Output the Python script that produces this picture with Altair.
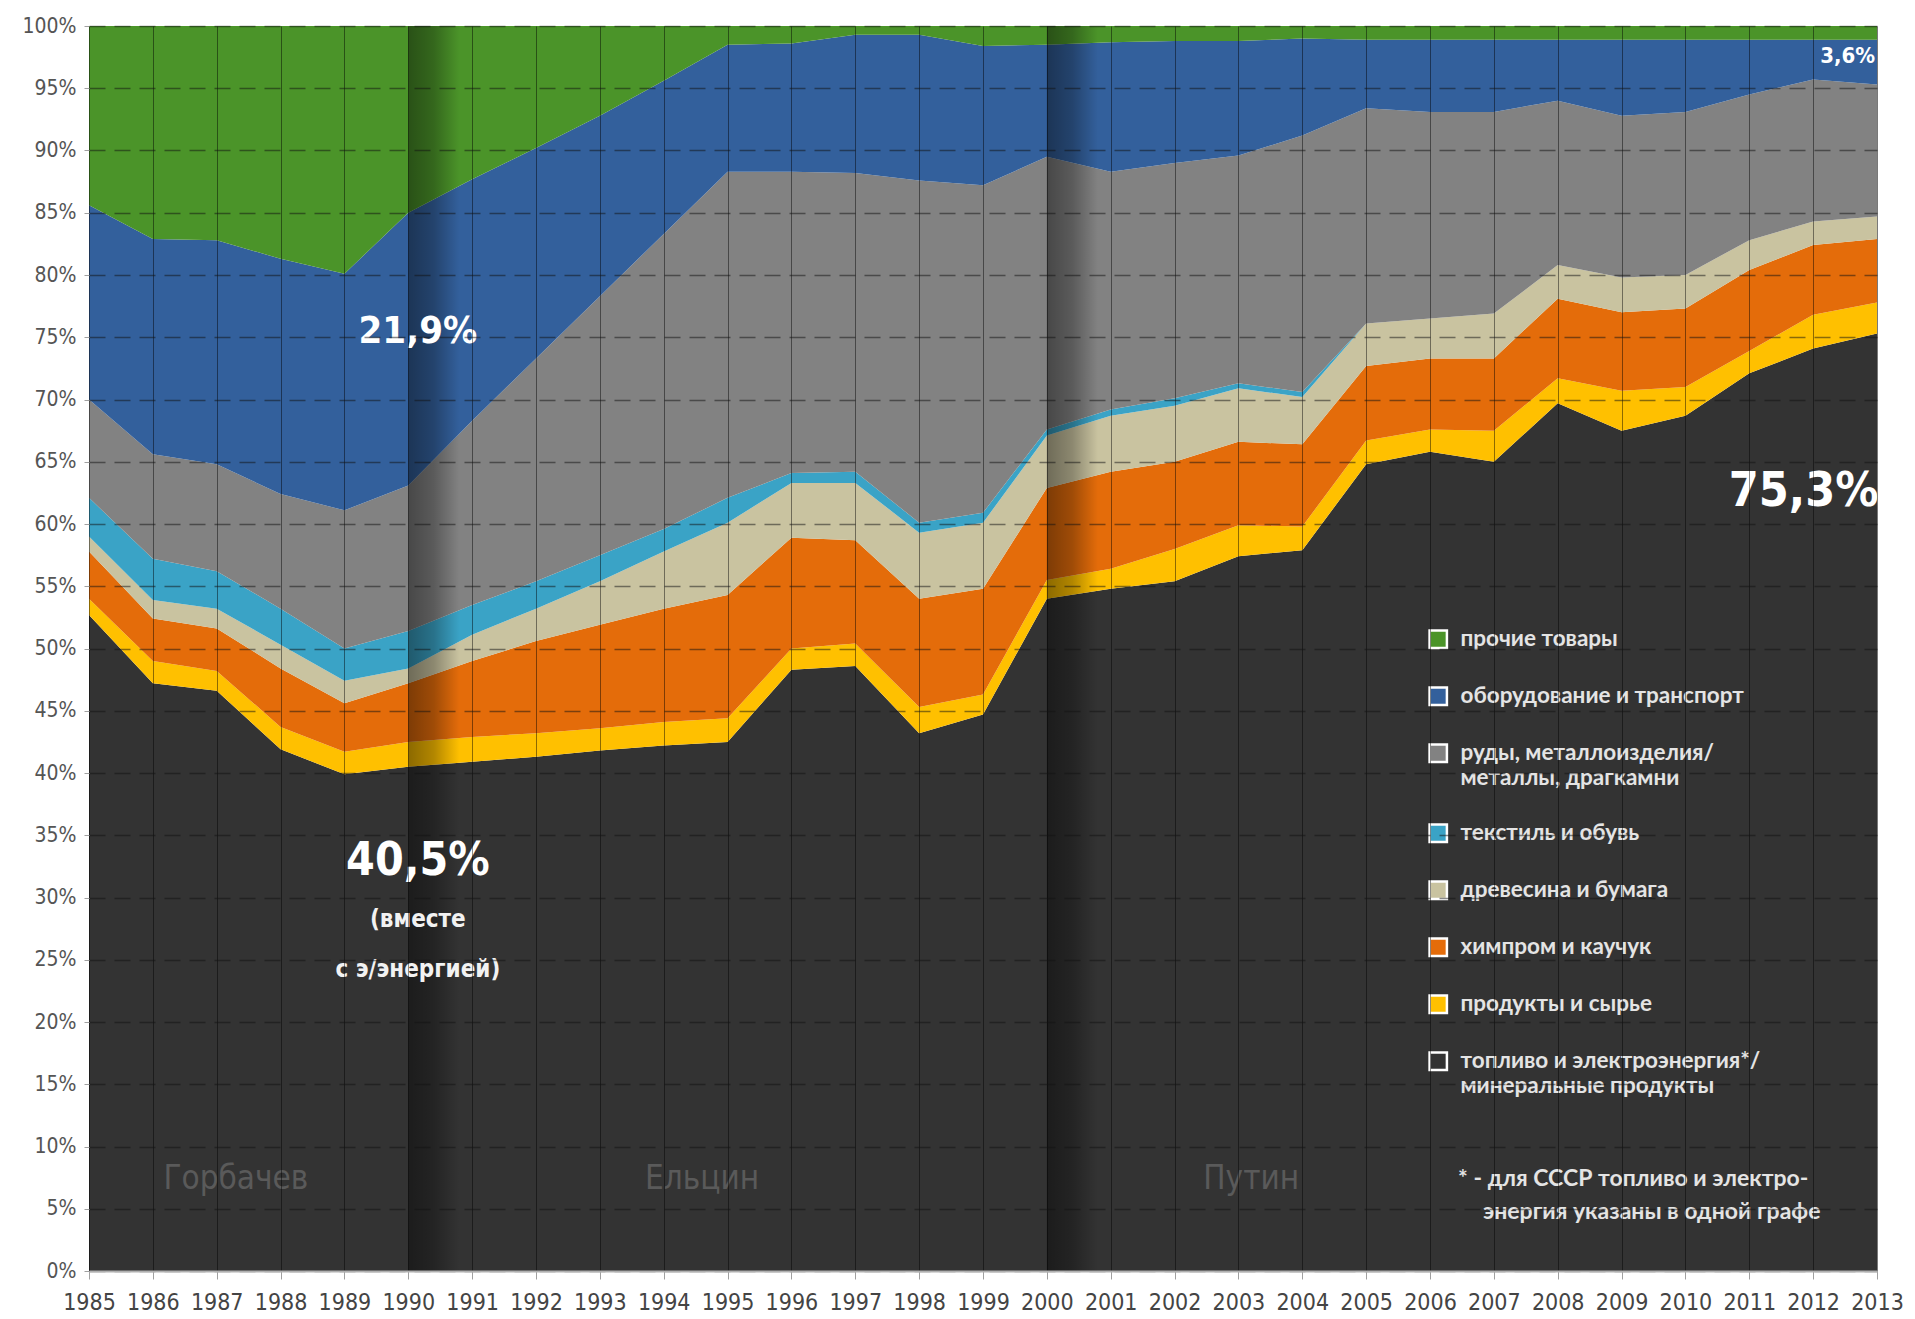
import altair as alt
import pandas as pd

# ---------------- data (shares of exports, %) ----------------
years = list(range(1985, 2014))

fuel = [52.7, 47.2, 46.6, 41.9, 39.9, 40.5, 40.9, 41.3, 41.8, 42.2, 42.5, 48.3, 48.6, 43.2, 44.7,
        54.0, 54.8, 55.4, 57.4, 57.9, 64.8, 65.8, 65.0, 69.7, 67.5, 68.7, 72.1, 74.1, 75.3]
food = [1.3, 1.8, 1.6, 1.8, 1.8, 2.0, 2.0, 1.9, 1.8, 1.9, 1.9, 1.7, 1.8, 2.1, 1.6,
        1.5, 1.6, 2.6, 2.5, 1.9, 1.9, 1.8, 2.5, 2.0, 3.2, 2.3, 1.8, 2.7, 2.5]
chem = [3.8, 3.4, 3.4, 4.7, 3.9, 4.7, 6.1, 7.4, 8.3, 9.1, 9.9, 8.9, 8.3, 8.7, 8.5,
        7.4, 7.8, 7.0, 6.7, 6.6, 6.0, 5.7, 5.8, 6.4, 6.3, 6.3, 6.5, 5.6, 5.1]
wood = [1.2, 1.5, 1.6, 1.9, 1.8, 1.2, 2.1, 2.6, 3.5, 4.6, 5.8, 4.4, 4.6, 5.3, 5.3,
        4.2, 4.5, 4.5, 4.3, 3.8, 3.4, 3.2, 3.6, 2.7, 2.8, 2.7, 2.4, 1.9, 1.8]
textile = [3.1, 3.3, 3.0, 2.9, 2.6, 3.0, 2.4, 2.2, 2.1, 1.8, 2.0, 0.8, 0.9, 0.8, 0.8,
           0.5, 0.5, 0.6, 0.4, 0.4, 0.0, 0.0, 0.0, 0.0, 0.0, 0.0, 0.0, 0.0, 0.0]
metals = [7.9, 8.4, 8.6, 9.2, 11.1, 11.7, 14.8, 17.9, 20.8, 23.7, 26.2, 24.2, 24.0, 27.5, 26.3,
          21.9, 19.1, 18.9, 18.3, 20.6, 17.3, 16.6, 16.2, 13.2, 13.0, 13.1, 11.7, 11.4, 10.6]
equip = [15.6, 17.3, 18.0, 18.9, 19.0, 21.9, 19.4, 16.9, 14.5, 12.3, 10.2, 10.3, 11.1, 11.7, 11.2,
         9.0, 10.4, 9.8, 9.2, 7.8, 5.5, 5.8, 5.8, 4.9, 6.1, 5.8, 4.4, 3.2, 3.6]
other = [14.4, 17.1, 17.2, 18.7, 19.9, 15.0, 12.3, 9.8, 7.2, 4.4, 1.5, 1.4, 0.7, 0.7, 1.6,
         1.5, 1.3, 1.2, 1.2, 1.0, 1.1, 1.1, 1.1, 1.1, 1.1, 1.1, 1.1, 1.1, 1.1]

# stacking order: bottom -> top
series_names = [
    "топливо и электроэнергия*/|минеральные продукты",
    "продукты и сырье",
    "химпром и каучук",
    "древесина и бумага",
    "текстиль и обувь",
    "руды, металлоизделия/|металлы, драгкамни",
    "оборудование и транспорт",
    "прочие товары",
]
series_values = [fuel, food, chem, wood, textile, metals, equip, other]
series_colors = ["#333333", "#FFC000", "#E46C0A", "#C9C3A0", "#3AA3C6", "#828282", "#33609C", "#4B9429"]

# annotations
big_labels = ["21,9%", "40,5%", "75,3%"]
big_years = [1990.15, 1990.15, 2011.85]
big_pct = [75.4, 32.9, 62.6]
big_sizes = [38, 46, 48]

note_labels = ["(вместе\nс э/энергией)"]
note_years = [1990.15]
note_pct = [28.2]

small_labels = ["3,6%"]
small_years = [2012.97]
small_pct = [97.6]

leaders = ["Горбачев", "Ельцин", "Путин"]
leader_years = [1987.3, 1994.6, 2003.2]
leader_pct = [7.4, 7.4, 7.4]

foot_lines = ["* - для СССР топливо и электро-", "энергия  указаны в одной графе"]
foot_years = [2006.44, 2006.83]
foot_pct = [7.4, 4.7]

transitions = [1990, 2000]

# ---------------- frames ----------------
rows = []
for idx, (name, vals) in enumerate(zip(series_names, series_values)):
    for y, v in zip(years, vals):
        rows.append({"year": y, "series": name, "value": v, "idx": idx})
df = pd.DataFrame(rows)

legend_order = list(reversed(series_names))
legend_colors = list(reversed(series_colors))

W, H = 1788, 1245
COND = "Liberation Sans Narrow, DejaVu Sans Condensed, Roboto Condensed, Arial Narrow, Roboto, sans-serif"

xscale = alt.Scale(domain=[1985, 2013], nice=False, zero=False)
yscale = alt.Scale(domain=[0, 1], nice=False)

areas = alt.Chart(df).mark_area(interpolate="linear").encode(
    x=alt.X("year:Q", scale=xscale,
            axis=alt.Axis(values=years, format="d", title=None, grid=True,
                          gridColor="#000000", gridOpacity=0.45, gridWidth=1,
                          tickColor="#a0a0a0", tickSize=8, labelFont=COND, labelFontSize=23,
                          labelColor="#444444", labelPadding=12, domainColor="#b0b0b0",
                          domainWidth=2, labelFlush=False, zindex=1)),
    y=alt.Y("value:Q", stack="normalize", scale=yscale,
            axis=alt.Axis(values=[i / 20 for i in range(21)], format=".0%", title=None,
                          grid=True, gridDash=[16, 9], gridColor="#111111", gridOpacity=0.5,
                          gridWidth=1.5, tickColor="#a0a0a0", tickSize=5, labelFont=COND,
                          labelFontSize=21, labelColor="#555555", labelPadding=8,
                          domain=False, zindex=1)),
    color=alt.Color("series:N",
                    scale=alt.Scale(domain=legend_order, range=legend_colors),
                    legend=alt.Legend(orient="none", legendX=1338, legendY=602, title=None,
                                      symbolType="square", symbolSize=300,
                                      symbolStrokeColor="white", symbolStrokeWidth=2.5,
                                      symbolOpacity=1, labelColor="#e4e4e4",
                                      labelFont="Lato", labelFontWeight="bold",
                                      labelFontSize=22.5, labelLimit=600, labelOffset=11,
                                      rowPadding=29, labelExpr="split(datum.label, '|')")),
    order=alt.Order("idx:Q", sort="ascending"),
)

shade = alt.Chart(pd.DataFrame({"start": transitions})).transform_calculate(
    end="datum.start + 0.8"
).mark_rect(
    fill=alt.LinearGradient(
        gradient="linear",
        stops=[alt.GradientStop(color="rgba(0,0,0,0.45)", offset=0),
               alt.GradientStop(color="rgba(0,0,0,0.3)", offset=0.5),
               alt.GradientStop(color="rgba(0,0,0,0)", offset=1)],
        x1=0, x2=1, y1=0, y2=0)
).encode(
    x=alt.X("start:Q", scale=xscale),
    x2="end:Q",
    y=alt.value(0),
    y2=alt.value(H),
)

big = alt.Chart(pd.DataFrame({"t": big_labels, "year": big_years, "pct": big_pct,
                              "fs": big_sizes})).transform_calculate(
    p="datum.pct / 100"
).mark_text(font=COND, fontWeight="bold", color="#ffffff", align="center",
            baseline="middle").encode(
    x=alt.X("year:Q", scale=xscale), y=alt.Y("p:Q", scale=yscale), text="t:N",
    size=alt.Size("fs:Q", scale=None, legend=None))

note = alt.Chart(pd.DataFrame({"t": note_labels, "year": note_years, "pct": note_pct})).transform_calculate(
    p="datum.pct / 100"
).mark_text(font=COND, fontWeight="bold", fontSize=24, color="#f2f2f2", align="center",
            baseline="middle", lineBreak="\n", lineHeight=50).encode(
    x=alt.X("year:Q", scale=xscale), y=alt.Y("p:Q", scale=yscale), text="t:N")

small = alt.Chart(pd.DataFrame({"t": small_labels, "year": small_years, "pct": small_pct})).transform_calculate(
    p="datum.pct / 100"
).mark_text(font=COND, fontWeight="bold", fontSize=22, color="#ffffff", align="right",
            baseline="middle").encode(
    x=alt.X("year:Q", scale=xscale), y=alt.Y("p:Q", scale=yscale), text="t:N")

lead = alt.Chart(pd.DataFrame({"t": leaders, "year": leader_years, "pct": leader_pct})).transform_calculate(
    p="datum.pct / 100"
).mark_text(font=COND, fontWeight="normal", fontSize=33, color="#5a5a5a", align="center",
            baseline="middle").encode(
    x=alt.X("year:Q", scale=xscale), y=alt.Y("p:Q", scale=yscale), text="t:N")

foot = alt.Chart(pd.DataFrame({"t": foot_lines, "year": foot_years, "pct": foot_pct})).transform_calculate(
    p="datum.pct / 100"
).mark_text(font="Lato", fontWeight="bold", fontSize=23, color="#e4e4e4", align="left",
            baseline="middle").encode(
    x=alt.X("year:Q", scale=xscale), y=alt.Y("p:Q", scale=yscale), text="t:N")

chart = alt.layer(areas, shade, big, note, small, lead, foot).properties(
    width=W, height=H,
    autosize=alt.AutoSizeParams(type="none"),
    padding={"left": 81, "top": 18, "right": 30, "bottom": 42},
).configure_view(stroke=None).configure(background="white")

chart.save("out.html", embed_options={"renderer": "svg", "actions": False})
